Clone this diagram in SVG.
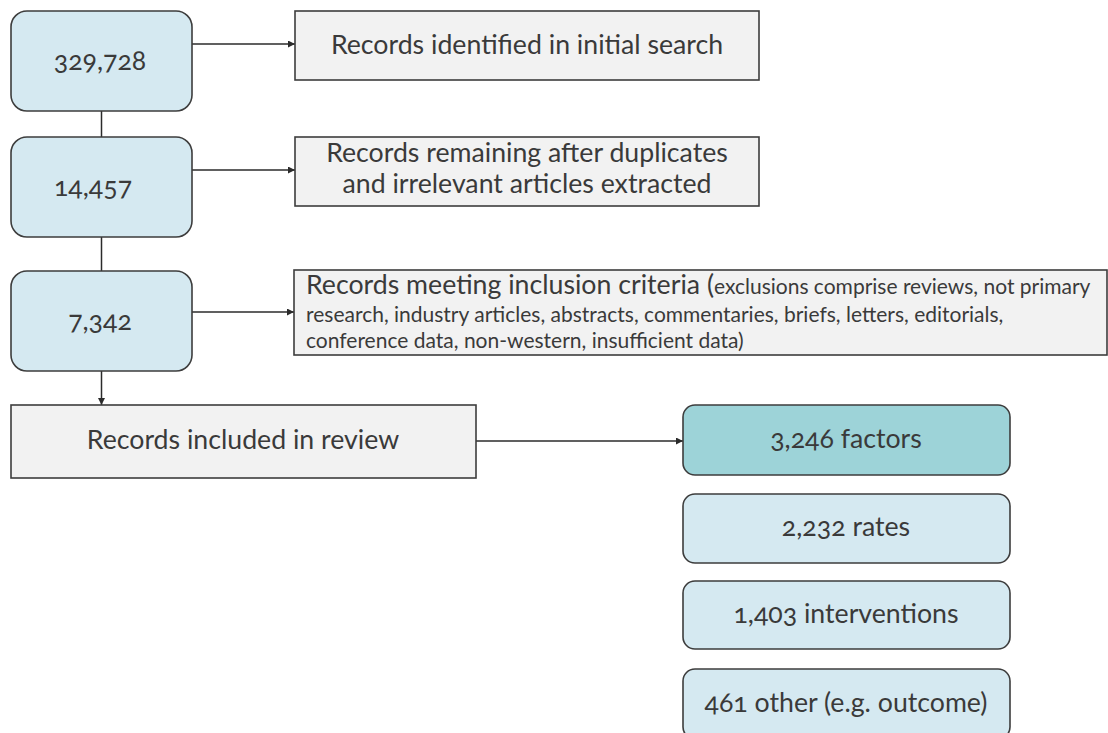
<svg xmlns="http://www.w3.org/2000/svg" width="1108" height="733" viewBox="0 0 1108 733">
  <style>
    text { font-family: Lato, "Open Sans", "Liberation Sans", sans-serif; fill: #3a3a3a; font-variant-numeric: oldstyle-nums; }
    .count { fill: #d5e9f1; stroke: #3d3d3d; stroke-width: 1.6; }
    .hit { fill: #9dd3d8; stroke: #3d3d3d; stroke-width: 1.6; }
    .step { fill: #f2f2f2; stroke: #3d3d3d; stroke-width: 1.6; }
    .num { font-size: 26.7px; text-anchor: middle; }
    .lbl { font-size: 26.7px; text-anchor: middle; }
    .big { font-size: 26.7px; }
    .small { font-size: 21px; }
    .link { stroke: #2b2b2b; stroke-width: 1.5; fill: none; }
  </style>
  <defs>
    <marker id="tip" viewBox="0 0 10 10" refX="10" refY="5" markerWidth="7" markerHeight="7" markerUnits="userSpaceOnUse" orient="auto">
      <path d="M0,0 L10,5 L0,10 z" fill="#2b2b2b"/>
    </marker>
  </defs>

  <rect width="1108" height="733" fill="#ffffff"/>

  <!-- connectors -->
  <g id="connectors">
    <line class="link" x1="101.5" y1="111" x2="101.5" y2="137"/>
    <line class="link" x1="101.5" y1="237" x2="101.5" y2="271"/>
    <line class="link" x1="101.5" y1="371" x2="101.5" y2="405" marker-end="url(#tip)"/>
    <line class="link" x1="192" y1="44" x2="295" y2="44" marker-end="url(#tip)"/>
    <line class="link" x1="192" y1="170" x2="295" y2="170" marker-end="url(#tip)"/>
    <line class="link" x1="192" y1="312" x2="294" y2="312" marker-end="url(#tip)"/>
    <line class="link" x1="476" y1="441" x2="683" y2="441" marker-end="url(#tip)"/>
  </g>

  <!-- counts column -->
  <g id="n329728">
    <rect class="count" x="11" y="11" width="181" height="100" rx="16"/>
    <text class="num" x="100" y="70">329,728</text>
  </g>
  <g id="n14457">
    <rect class="count" x="11" y="137" width="181" height="100" rx="16"/>
    <text class="num" x="93" y="196">14,457</text>
  </g>
  <g id="n7342">
    <rect class="count" x="11" y="271" width="181" height="100" rx="16"/>
    <text class="num" x="100" y="330">7,342</text>
  </g>

  <!-- stage descriptions -->
  <g id="identified">
    <rect class="step" x="295" y="11" width="464" height="69"/>
    <text class="lbl" x="527" y="54">Records identified in initial search</text>
  </g>
  <g id="remaining">
    <rect class="step" x="295" y="137" width="464" height="69"/>
    <text class="lbl" x="527" y="162">Records remaining after duplicates</text>
    <text class="lbl" x="527" y="193">and irrelevant articles extracted</text>
  </g>
  <g id="criteria">
    <rect class="step" x="294" y="270" width="813" height="85"/>
    <text x="306" y="294"><tspan class="big">Records meeting inclusion criteria (</tspan><tspan class="small">exclusions comprise reviews, not primary</tspan></text>
    <text class="small" x="306" y="322">research, industry articles, abstracts, commentaries, briefs, letters, editorials,</text>
    <text class="small" x="306" y="348">conference data, non-western, insufficient data)</text>
  </g>
  <g id="included">
    <rect class="step" x="11" y="405" width="465" height="73"/>
    <text class="lbl" x="243" y="449">Records included in review</text>
  </g>

  <!-- breakdown of included records -->
  <g id="factors">
    <rect class="hit" x="683" y="405" width="327" height="70" rx="12"/>
    <text class="lbl" x="846" y="448">3,246 factors</text>
  </g>
  <g id="rates">
    <rect class="count" x="683" y="494" width="327" height="69" rx="12"/>
    <text class="lbl" x="846" y="536">2,232 rates</text>
  </g>
  <g id="interventions">
    <rect class="count" x="683" y="581" width="327" height="68" rx="12"/>
    <text class="lbl" x="846" y="623">1,403 interventions</text>
  </g>
  <g id="other">
    <rect class="count" x="683" y="669" width="327" height="70" rx="12"/>
    <text class="lbl" x="846" y="712">461 other (e.g. outcome)</text>
  </g>
</svg>
